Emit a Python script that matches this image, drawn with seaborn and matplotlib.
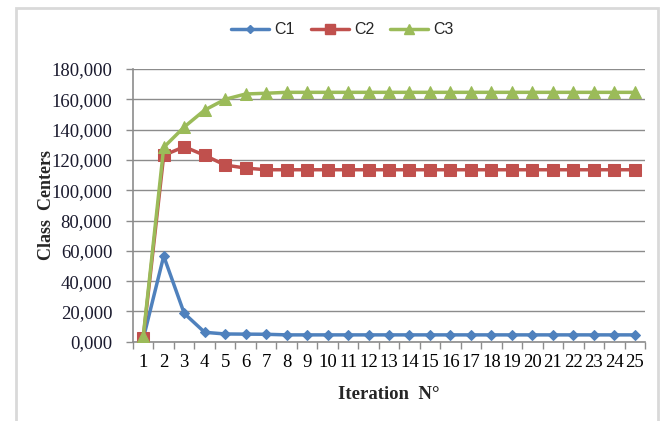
import matplotlib
matplotlib.use("Agg")
import matplotlib.pyplot as plt
from matplotlib.patches import Rectangle
from matplotlib.ticker import FixedLocator, FuncFormatter
from matplotlib.lines import Line2D
import numpy as np
import pandas as pd
import seaborn as sns

# Class centre values per iteration
iterations = list(range(1, 26))
c1 = [2.0, 56.5, 18.7, 6.2, 5.1, 5.0, 4.9] + [4.5] * 18
c2 = [2.6, 123.0, 128.7, 123.0, 116.6, 114.6] + [113.5] * 19
c3 = [3.5, 128.3, 141.7, 152.9, 160.0, 163.5, 164.0] + [164.6] * 18
series_names = ["C1", "C2", "C3"]
y_ticks = [0, 20, 40, 60, 80, 100, 120, 140, 160, 180]

colors = {"C1": "#4F81BD", "C2": "#C0504D", "C3": "#9BBB59"}
markers = {"C1": "D", "C2": "s", "C3": "^"}
sizes = {"C1": 5.5, "C2": 8, "C3": 8}

df = pd.concat(
    [pd.DataFrame({"Iteration": iterations, "value": vals, "series": name})
     for name, vals in zip(series_names, [c1, c2, c3])],
    ignore_index=True,
)

sns.set_style("white")
plt.rcParams["font.family"] = ["Liberation Serif", "DejaVu Serif"]

fig = plt.figure(figsize=(6.66, 4.21), dpi=100)
ax = fig.add_axes([133 / 666, 1 - 341.7 / 421, (645 - 133) / 666, (341.7 - 69) / 421])

for name in series_names:
    sns.lineplot(
        data=df[df["series"] == name], x="Iteration", y="value",
        color=colors[name], marker=markers[name], markersize=sizes[name],
        markeredgecolor=colors[name], linewidth=2.5, ax=ax, legend=False,
        zorder=3,
    )

ax.set_xlim(0.5, 25.5)
ax.set_ylim(0, 180)

# horizontal gridlines
ax.yaxis.set_major_locator(FixedLocator(y_ticks))
ax.yaxis.grid(True, color="#8c8c8c", linewidth=1.0)
ax.xaxis.grid(False)
ax.set_axisbelow(True)

ax.yaxis.set_major_formatter(FuncFormatter(lambda v, p: f"{v:.3f}".replace(".", ",")))
ax.set_xticks(iterations)
ax.set_xticklabels([str(i) for i in iterations])
ax.set_xticks(np.arange(0.5, 26, 1.0), minor=True)

ax.tick_params(axis="x", which="major", length=0, pad=9, labelsize=13.5, colors="black")
ax.tick_params(axis="x", which="minor", length=5, width=1, color="#8c8c8c", direction="out")
ax.tick_params(axis="y", which="major", length=5, width=1, color="#8c8c8c",
               direction="out", pad=10, labelsize=13.5, labelcolor="#1a1a2e")
ax.tick_params(axis="y", left=True)
ax.tick_params(axis="x", bottom=True, which="both")

for side in ["top", "right"]:
    ax.spines[side].set_visible(False)
for side in ["left", "bottom"]:
    ax.spines[side].set_color("#8c8c8c")
    ax.spines[side].set_linewidth(1.2)

ax.set_xlabel("Iteration  N°", fontsize=13.5, fontweight="bold", labelpad=11)
ax.set_ylabel("Class  Centers", fontsize=13, fontweight="bold", labelpad=-3)

# legend across the top
handles = [
    Line2D([], [], color=colors[n], marker=markers[n], markersize=sizes[n] - 1,
           linewidth=2.5, markeredgecolor=colors[n])
    for n in series_names
]
fig.legend(handles, series_names, loc="center", bbox_to_anchor=(0.514, 0.929),
           ncol=3, frameon=False, handlelength=2.4, columnspacing=1.0,
           handletextpad=0.3, prop={"family": "Liberation Sans", "size": 11.5})

# light chart border
fig.patches.append(Rectangle((16 / 666, -0.05), (658 - 16) / 666, 1.05 - 8 / 421,
                             transform=fig.transFigure, fill=False,
                             edgecolor="#d9d9d9", linewidth=2))

fig.savefig("out.png", dpi=100)
